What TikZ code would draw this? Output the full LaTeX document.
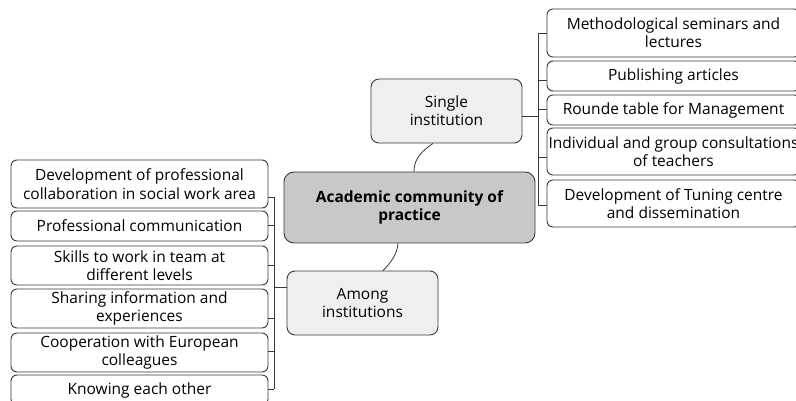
\documentclass[tikz,border=0pt]{standalone}
\usepackage{fontspec}
\setmainfont{Open Sans}
\usetikzlibrary{calc}
\definecolor{edge}{HTML}{3A3A3A}
\definecolor{midgray}{HTML}{C8C8C8}
\definecolor{lightgray}{HTML}{EFEFEF}
\newcommand{\boxfont}{\fontsize{15.5}{18.3}\selectfont}
\tikzset{
  leaf/.style={draw=edge, line width=0.9pt, fill=white, rounded corners=6pt,
    inner sep=0pt, align=center, minimum width=257pt, font=\boxfont},
  rleaf/.style={leaf, minimum width=253pt},
  hub/.style={draw=edge, line width=0.9pt, fill=lightgray, rounded corners=8pt,
    inner sep=0pt, align=center, minimum width=151pt, minimum height=64pt, font=\boxfont},
  core/.style={draw=edge, line width=0.9pt, fill=midgray, rounded corners=10pt,
    inner sep=0pt, align=center, minimum width=251pt, minimum height=71pt, font=\boxfont\bfseries},
  link/.style={draw=edge, line width=0.8pt},
}
\begin{document}
\begin{tikzpicture}[x=1pt,y=-1pt]
\useasboundingbox (0,0) rectangle (796,401);
\fill[white] (0,0) rectangle (796,401);
\clip (0,0) rectangle (796,401);

% central and hubs
\node[core] (c) at (409.5,207.5) {Academic community of\\practice};
\node[hub] (si) at (446.5,111) {Single\\institution};
\node[hub] (am) at (362.5,303) {Among\\institutions};

% right leaves
\node[rleaf, minimum height=48pt] (r1) at (673.5,33) {Methodological seminars and\\lectures};
\node[rleaf, minimum height=30pt] (r2) at (673.5,76) {Publishing articles};
\node[rleaf, minimum height=30pt] (r3) at (673.5,110) {Rounde table for Management};
\node[rleaf, minimum height=47pt] (r4) at (673.5,151.5) {Individual and group consultations\\of teachers};
\node[rleaf, minimum height=47pt] (r5) at (673.5,203.5) {Development of Tuning centre\\and dissemination};

% left leaves
\node[leaf, minimum height=48pt] (l1) at (139.5,184) {Development of professional\\collaboration in social work area};
\node[leaf, minimum height=30pt] (l2) at (139.5,226) {Professional communication};
\node[leaf, minimum height=39pt] (l3) at (139.5,265.5) {Skills to work in team at\\different levels};
\node[leaf, minimum height=39pt] (l4) at (139.5,308.5) {Sharing information and\\experiences};
\node[leaf, minimum height=39pt] (l5) at (139.5,352.5) {Cooperation with European\\colleagues};
\node[leaf, minimum height=30pt] (l6) at (139.5,390) {Knowing each other};

% curved links from core
\coordinate (ct) at ([xshift=4.5pt]c.north);
\coordinate (sb) at ([xshift=-13.5pt]si.south);
\draw[link] (ct) .. controls +(0,-14) and +(-10,7) .. (sb);
\coordinate (cb) at ([xshift=-11.5pt]c.south);
\coordinate (at) at ([xshift=20.5pt]am.north);
\draw[link] (cb) .. controls +(-1,11) and +(8,-8) .. (at);

% right bracket
\coordinate (rb1) at ([yshift=0pt]r1.west);
\coordinate (rb2) at ([yshift=-4pt]r2.west);
\coordinate (rb3) at ([yshift=1pt]r3.west);
\coordinate (rb4) at ([yshift=-5.5pt]r4.west);
\coordinate (rb5) at ([yshift=-1.5pt]r5.west);
\coordinate (rtop) at (538,0 |- rb1);
\coordinate (rbot) at (538,0 |- rb5);
\draw[link] (rtop) -- (rbot);
\foreach \k in {rb1,rb2,rb3,rb4,rb5}{\draw[link] (\k) -- (538,0 |- \k);}
\coordinate (sij) at ([yshift=-5pt]si.east);
\draw[link] (sij) -- (538,0 |- sij);

% left bracket
\coordinate (lb1) at ([yshift=-13pt]l1.east);
\coordinate (lb2) at ([yshift=1pt]l2.east);
\coordinate (lb3) at ([yshift=0.5pt]l3.east);
\coordinate (lb4) at ([yshift=-9.5pt]l4.east);
\coordinate (lb5) at ([yshift=1.5pt]l5.east);
\coordinate (lb6) at ([yshift=1pt]l6.east);
\coordinate (ltop) at (274,0 |- lb1);
\coordinate (lbot) at (274,0 |- lb6);
\draw[link] (ltop) -- (lbot);
\foreach \k in {lb1,lb2,lb3,lb4,lb5,lb6}{\draw[link] (\k) -- (274,0 |- \k);}
\coordinate (amj) at ([yshift=16pt]am.west);
\draw[link] (amj) -- (274,0 |- amj);
\end{tikzpicture}
\end{document}
